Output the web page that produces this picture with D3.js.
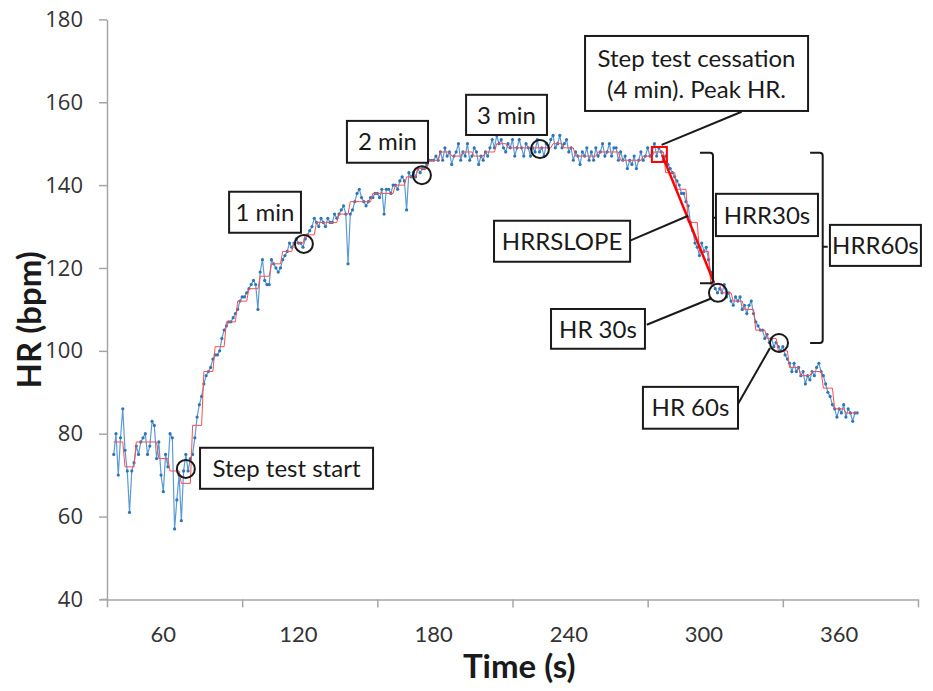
<!DOCTYPE html>
<html>
<head>
<meta charset="utf-8">
<script src="https://cdn.jsdelivr.net/npm/d3@7"></script>
<style>
  body { margin: 0; background: #fff; }
  text { font-family: Lato, "Open Sans", sans-serif; }
</style>
</head>
<body>
<script>
// raw heart rate, one value per second from t = 38
var rawStart = 38;
var hrRaw = [
  75,80,70,79,86,76,71,61,71,73,
  77,75,78,79,80,75,77,83,82,74,
  78,70,66,75,72,80,79,57,64,70,
  59,71,75,71,74,75,79,84,87,89,
  92,94,95,96,98,99,99,100,103,105,
  106,107,107,108,109,110,112,113,113,114,
  115,116,117,
  116,110,119,122,117,116,116,122,121,120,
  119,120,122,123,124,126,125,126,127,126,
  126,125,127,128,129,130,132,131,130,132,
  131,130,132,131,131,133,132,133,134,135,
  133,121,133,134,136,138,139,137,136,135,
  136,137,137,138,138,137,139,133,139,139,
  138,140,140,139,141,142,141,134,143,142,
  143,142,144,143,144,144,145,146,146,146,
  147,146,
  148,146,149,147,148,145,147,148,150,146,
  148,147,150,146,147,149,148,145,147,146,
  148,147,149,151,149,152,150,151,149,148,
  150,149,151,147,149,151,149,147,150,149,
  147,149,148,151,148,149,147,150,149,151,
  152,149,150,152,149,150,151,148,149,146,
  148,147,145,148,147,149,146,148,146,149,
  147,148,150,147,148,150,147,149,149,146,
  148,146,147,144,146,145,147,144,146,148,
  146,147,149,147,148,150,147,149,148,146,
  147,
  145,144,143,142,141,140,138,138,136,135,
  131,129,126,125,123,126,124,125,122,119,
  116,115,
  114,115,114,116,113,114,112,111,113,112,
  113,110,111,109,111,112,109,107,106,105,
  105,103,104,102,103,101,102,101,100,101,
  99,98,97,95,97,95,96,94,95,92,94,
  93,95,94,96,97,95,94,92,90,89,87,
  86,84,86,85,87,84,86,85,83,85,85
];

// 5-second averaged heart rate, blocks starting at t = 38
var smoothStart = 38;
var smoothStep = 5;
var hrSmooth = [
  78,72,78,78,74,71,68,82,95,101,
  107,112,115,118,121,124,126,128,131,131,
  133,136,136,138,138,140,142,144,146,148,
  147,148,147,148,150,149,149,149,149,150,
  149,147,147,148,148,146,146,147,148,143,
  139,131,124,116,114,112,110,105,103,100,
  96,94,95,91,86,85
];

var yTicks = [40, 60, 80, 100, 120, 140, 160, 180];
var xTickMarks = [35, 95, 155, 215, 275, 335, 395];
var xLabels = [60, 120, 180, 240, 300, 360];

// circled points
var circleT = [70, 122.4, 174.8, 227.2, 306.2, 333.3];
var circleHR = [71.5, 125.8, 142.4, 148.7, 114, 101.9];

// labelled boxes [t0, t1, hrTop, hrBottom]
var boxText = [["Step test start"], ["1 min"], ["2 min"], ["3 min"],
  ["Step test cessation", "(4 min). Peak HR."], ["HRRSLOPE"], ["HRR30s"],
  ["HRR60s"], ["HR 30s"], ["HR 60s"]];
var boxT0 = [76.3, 89.2, 141.5, 194.4, 247.2, 206.8, 305.3, 355.9, 232.1, 272.9];
var boxT1 = [153.1, 121.1, 177.5, 230.3, 346.2, 267.2, 350.6, 396.3, 273.8, 315.1];
var boxTop = [76.6, 138.4, 155.5, 161.8, 176, 131.4, 137.9, 130.4, 110.1, 91.3];
var boxBottom = [66.7, 128.5, 145.4, 152.1, 157.9, 121.5, 127.7, 120.5, 100.5, 81.2];

// leader lines [t1, hr1, t2, hr2]
var leaders = [
  [316.7, 157.7, 281.2, 149.7],
  [267.2, 126.6, 293.0, 132.6],
  [274.6, 106.3, 303.4, 112.7],
  [314.9, 87.0, 329.3, 100.7]
];

// peak marker and slope line
var peakT = 280.2, peakHR = 147.4;
var slopeT = [281.4, 304.5];
var slopeHR = [147.3, 116.4];

// brackets [tLeft, tRight, hrTop, hrBottom, hrMid]
var brackets = [
  [298.2, 304.0, 147.8, 116.3, 132.1],
  [347.1, 352.7, 147.8, 101.9, 125.1]
];

var width = 933, height = 691;
var margin = { top: 19.4, right: 15, bottom: 91.6, left: 107 };

var svg = d3.select('body').append('svg')
  .attr('width', width)
  .attr('height', height);

var x = d3.scaleLinear().domain([35, 395]).range([margin.left, width - margin.right]);
var y = d3.scaleLinear().domain([40, 180]).range([height - margin.bottom, margin.top]);

// axes
var axisColor = '#a6a6a6';
var yAxis = svg.append('g')
  .attr('transform', 'translate(' + margin.left + ',0)')
  .call(d3.axisLeft(y).tickValues(yTicks).tickSize(8).tickSizeOuter(0).tickPadding(16));
yAxis.select('.domain').attr('stroke', axisColor).attr('stroke-width', 1.5);
yAxis.selectAll('.tick line').attr('stroke', axisColor).attr('stroke-width', 1.5);
yAxis.selectAll('.tick text')
  .attr('fill', '#333')
  .style('font-family', '"Open Sans", sans-serif')
  .style('font-size', '22px');

var xAxis = svg.append('g')
  .attr('transform', 'translate(0,' + y(40) + ')')
  .call(d3.axisBottom(x).tickValues(xTickMarks).tickSize(8).tickSizeOuter(0).tickFormat(''));
xAxis.select('.domain').attr('stroke', axisColor).attr('stroke-width', 1.5);
xAxis.selectAll('.tick line').attr('stroke', axisColor).attr('stroke-width', 1.5);
svg.append('line')
  .attr('x1', margin.left - 6).attr('x2', margin.left)
  .attr('y1', y(40)).attr('y2', y(40))
  .attr('stroke', axisColor).attr('stroke-width', 1.5);

svg.selectAll('.xlabel')
  .data(xLabels)
  .enter()
  .append('text')
  .attr('class', 'xlabel')
  .attr('x', function(d) { return x(d); })
  .attr('y', y(40) + 43)
  .attr('text-anchor', 'middle')
  .attr('fill', '#333')
  .style('font-size', '22px')
  .text(function(d) { return d; });

svg.append('text')
  .attr('x', x(218))
  .attr('y', height - 13)
  .attr('text-anchor', 'middle')
  .attr('fill', '#1a1a1a')
  .style('font-weight', 'bold')
  .style('font-size', '33px')
  .text('Time (s)');

svg.append('text')
  .attr('transform', 'translate(41,' + y(107.5) + ') rotate(-90)')
  .attr('text-anchor', 'middle')
  .attr('fill', '#1a1a1a')
  .style('font-weight', 'bold')
  .style('font-size', '33px')
  .text('HR (bpm)');

// raw series
var line = d3.line()
  .x(function(d, i) { return x(rawStart + i); })
  .y(function(d) { return y(d); });

svg.append('path')
  .datum(hrRaw)
  .attr('fill', 'none')
  .attr('stroke', '#5b9bd5')
  .attr('stroke-width', 1.2)
  .attr('d', line);

svg.selectAll('.dot')
  .data(hrRaw)
  .enter()
  .append('circle')
  .attr('class', 'dot')
  .attr('cx', function(d, i) { return x(rawStart + i); })
  .attr('cy', function(d) { return y(d); })
  .attr('r', 1.6)
  .attr('fill', '#2e75b6');

// smoothed series, flat over each block
var smoothPts = [];
hrSmooth.forEach(function(v, i) {
  var t0 = smoothStart + i * smoothStep;
  var t1 = i === hrSmooth.length - 1 ? rawStart + hrRaw.length - 1 : t0 + smoothStep - 1;
  smoothPts.push([t0, v], [t1, v]);
});
svg.append('path')
  .datum(smoothPts)
  .attr('fill', 'none')
  .attr('stroke', '#ff4d4d')
  .attr('stroke-width', 1)
  .attr('d', d3.line().x(function(d) { return x(d[0]); }).y(function(d) { return y(d[1]); }));

// peak square and recovery slope
svg.append('rect')
  .attr('x', x(peakT) - 7.5)
  .attr('y', y(peakHR) - 7.5)
  .attr('width', 15)
  .attr('height', 15)
  .attr('fill', 'none')
  .attr('stroke', '#ff0000')
  .attr('stroke-width', 2);

svg.append('line')
  .attr('x1', x(slopeT[0])).attr('y1', y(slopeHR[0]))
  .attr('x2', x(slopeT[1])).attr('y2', y(slopeHR[1]))
  .attr('stroke', '#ff0000')
  .attr('stroke-width', 2.5);

// circles
svg.selectAll('.mark')
  .data(circleT)
  .enter()
  .append('circle')
  .attr('class', 'mark')
  .attr('cx', function(d) { return x(d); })
  .attr('cy', function(d, i) { return y(circleHR[i]); })
  .attr('r', 9)
  .attr('fill', 'none')
  .attr('stroke', '#1a1a1a')
  .attr('stroke-width', 2);

// leader lines
svg.selectAll('.leader')
  .data(leaders)
  .enter()
  .append('line')
  .attr('x1', function(d) { return x(d[0]); })
  .attr('y1', function(d) { return y(d[1]); })
  .attr('x2', function(d) { return x(d[2]); })
  .attr('y2', function(d) { return y(d[3]); })
  .attr('stroke', '#1a1a1a')
  .attr('stroke-width', 2);

// brackets
svg.selectAll('.bracket')
  .data(brackets)
  .enter()
  .append('path')
  .attr('fill', 'none')
  .attr('stroke', '#1a1a1a')
  .attr('stroke-width', 2)
  .attr('d', function(d) {
    var x0 = x(d[0]), x1 = x(d[1]), yt = y(d[2]), yb = y(d[3]), ym = y(d[4]);
    return 'M' + x0 + ',' + yt + ' H' + (x1 - 3) + ' Q' + x1 + ',' + yt + ' ' + x1 + ',' + (yt + 3) +
      ' V' + (yb - 3) + ' Q' + x1 + ',' + yb + ' ' + (x1 - 3) + ',' + yb + ' H' + x0 +
      ' M' + x1 + ',' + ym + ' H' + (x1 + 5);
  });

// text boxes
var boxes = svg.selectAll('.box')
  .data(boxText)
  .enter()
  .append('g')
  .attr('class', 'box');

boxes.append('rect')
  .attr('x', function(d, i) { return x(boxT0[i]); })
  .attr('y', function(d, i) { return y(boxTop[i]); })
  .attr('width', function(d, i) { return x(boxT1[i]) - x(boxT0[i]); })
  .attr('height', function(d, i) { return y(boxBottom[i]) - y(boxTop[i]); })
  .attr('fill', '#fff')
  .attr('stroke', '#1a1a1a')
  .attr('stroke-width', 2);

boxes.each(function(d, i) {
  var g = d3.select(this);
  var cx = (x(boxT0[i]) + x(boxT1[i])) / 2;
  var cy = (y(boxTop[i]) + y(boxBottom[i])) / 2;
  var lh = 31;
  d.forEach(function(s, k) {
    g.append('text')
      .attr('x', cx)
      .attr('y', cy + (k - (d.length - 1) / 2) * lh)
      .attr('dy', '0.36em')
      .attr('text-anchor', 'middle')
      .attr('fill', '#1a1a1a')
      .style('font-size', '24px')
      .text(s);
  });
});
</script>
</body>
</html>
